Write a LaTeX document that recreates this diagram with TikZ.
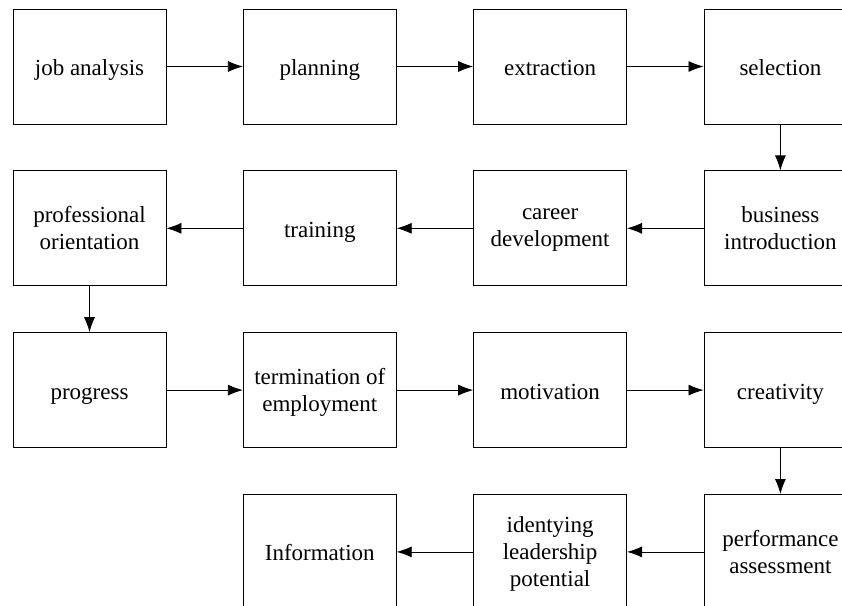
\documentclass[tikz,border=0pt]{standalone}
\usepackage{fontspec}
\setmainfont{Liberation Serif}
\usepackage{tikz}
\usetikzlibrary{positioning,arrows.meta}

\tikzset{
  stagebox/.style={draw, line width=0.8pt, minimum width=153pt, minimum height=115pt,
    inner sep=0pt, align=center, font=\rmfamily\fontsize{23}{27}\selectfont,
    execute at begin node=\strut, execute at end node=\strut, text depth=1pt},
  flowarrow/.style={-{Latex[length=15pt,width=11pt]}, line width=0.8pt}
}

\begin{document}
\begin{tikzpicture}[node distance=76.5pt and 46pt]
    \useasboundingbox (0,0) rectangle (842pt,-605pt);
    % first row
    \node[stagebox] (job) at (89.5pt,-66.5pt) {job analysis};
    \node[stagebox, right=76.5pt of job] (plan) {planning};
    \node[stagebox, right=76.5pt of plan] (extr) {extraction};
    \node[stagebox, right=76.5pt of extr] (sel) {selection};
    % second row
    \node[stagebox, below=46pt of sel] (busi) {business\\introduction};
    \node[stagebox, left=76.5pt of busi] (career) {career\\development};
    \node[stagebox, left=76.5pt of career] (train) {training};
    \node[stagebox, left=76.5pt of train] (prof) {professional\\orientation};
    % third row
    \node[stagebox, below=46pt of prof] (prog) {progress};
    \node[stagebox, right=76.5pt of prog] (term) {termination of\\employment};
    \node[stagebox, right=76.5pt of term] (motiv) {motivation};
    \node[stagebox, right=76.5pt of motiv] (creat) {creativity};
    % fourth row
    \node[stagebox, below=46pt of creat] (perf) {performance\\assessment};
    \node[stagebox, left=76.5pt of perf] (lead) {identying\\leadership\\potential};
    \node[stagebox, left=76.5pt of lead] (info) {Information};

    \draw[flowarrow] (job) -- (plan);
    \draw[flowarrow] (plan) -- (extr);
    \draw[flowarrow] (extr) -- (sel);
    \draw[flowarrow] (sel) -- (busi);
    \draw[flowarrow] (busi) -- (career);
    \draw[flowarrow] (career) -- (train);
    \draw[flowarrow] (train) -- (prof);
    \draw[flowarrow] (prof) -- (prog);
    \draw[flowarrow] (prog) -- (term);
    \draw[flowarrow] (term) -- (motiv);
    \draw[flowarrow] (motiv) -- (creat);
    \draw[flowarrow] (creat) -- (perf);
    \draw[flowarrow] (perf) -- (lead);
    \draw[flowarrow] (lead) -- (info);
\end{tikzpicture}
\end{document}
